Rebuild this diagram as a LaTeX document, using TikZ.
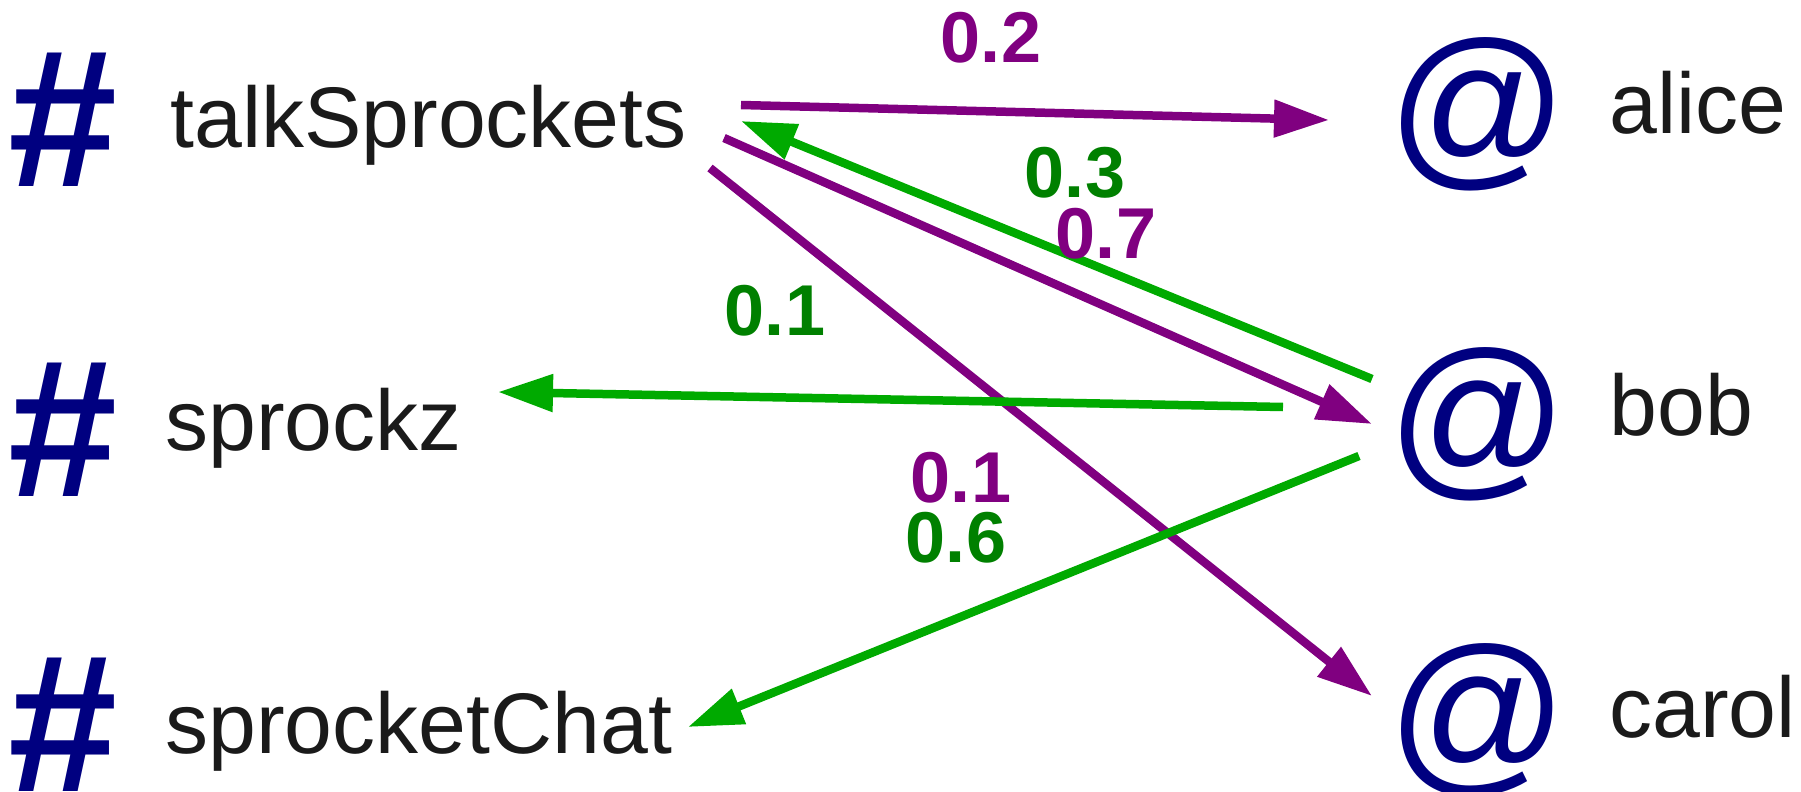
\documentclass[tikz,border=0pt]{standalone}
\usepackage{fontspec}
\setmainfont{Liberation Sans}
\usetikzlibrary{arrows.meta}
\definecolor{symblue}{RGB}{0,0,128}
\definecolor{fwdpurple}{RGB}{128,0,128}
\definecolor{backgreen}{RGB}{0,170,0}
\definecolor{numgreen}{RGB}{0,128,0}
\definecolor{handlegray}{RGB}{26,26,26}

\begin{document}
\begin{tikzpicture}[x=0.5pt, y=-0.5pt,
        hashsym/.style={text=symblue, inner sep=0, font=\bfseries\fontsize{98}{98}\selectfont},
        atsym/.style={text=symblue, inner sep=0, font=\fontsize{89}{89}\selectfont},
        handle/.style={text=handlegray, inner sep=0, anchor=base west, font=\fontsize{43}{43}\selectfont},
        wlabel/.style={inner sep=0, font=\bfseries\fontsize{36}{36}\selectfont},
        chan2user/.style={draw=fwdpurple, line width=4.25pt, -{Triangle[length=27.5pt, width=18pt]}},
        user2chan/.style={draw=backgreen, line width=4.25pt, -{Triangle[length=27.5pt, width=18pt]}}]
        \useasboundingbox (0,0) rectangle (1801,792);
        % channels
        \node[hashsym] (h-talk) at (63,120) {\#};
        \node[hashsym] (h-sprockz) at (63,430) {\#};
        \node[hashsym] (h-chat) at (63,725) {\#};
        \node[handle] (talk) at (170,148) {talkSprockets};
        \node[handle] (sprockz) at (165,450) {sprockz};
        \node[handle] (chat) at (165,753) {sprocketChat};
        % users
        \node[atsym] (at-alice) at (1478,114) {@};
        \node[atsym] (at-bob) at (1478,424) {@};
        \node[atsym] (at-carol) at (1478,720) {@};
        \node[handle] (alice) at (1609,134) {alice};
        \node[handle] (bob) at (1609,435) {bob};
        \node[handle] (carol) at (1609,737) {carol};
        % arrow ends
        \coordinate (talk-o1) at (741,105);
        \coordinate (talk-i1) at (741,121);
        \coordinate (talk-o2) at (724,138);
        \coordinate (talk-o3) at (710,168);
        \coordinate (alice-i) at (1329,120);
        \coordinate (bob-o1) at (1372,379);
        \coordinate (bob-i) at (1372,424);
        \coordinate (bob-o2) at (1283,407);
        \coordinate (bob-o3) at (1359,456);
        \coordinate (carol-i) at (1372,696);
        \coordinate (sprockz-i) at (498,392);
        \coordinate (chat-i) at (688,727);
        \draw[chan2user] (talk-o1) -- (alice-i);
        \draw[user2chan] (bob-o1) -- (talk-i1);
        \draw[chan2user] (talk-o2) -- (bob-i);
        \draw[chan2user] (talk-o3) -- (carol-i);
        \draw[user2chan] (bob-o2) -- (sprockz-i);
        \draw[user2chan] (bob-o3) -- (chat-i);
        % weights
        \node[wlabel, text=fwdpurple] (w-alice) at (991,38) {0.2};
        \node[wlabel, text=numgreen] (w-talk) at (1075,173) {0.3};
        \node[wlabel, text=fwdpurple] (w-bob) at (1106,234) {0.7};
        \node[wlabel, text=numgreen] (w-sprockz) at (775,311) {0.1};
        \node[wlabel, text=fwdpurple] (w-carol) at (961,478) {0.1};
        \node[wlabel, text=numgreen] (w-chat) at (956,538) {0.6};
\end{tikzpicture}
\end{document}
